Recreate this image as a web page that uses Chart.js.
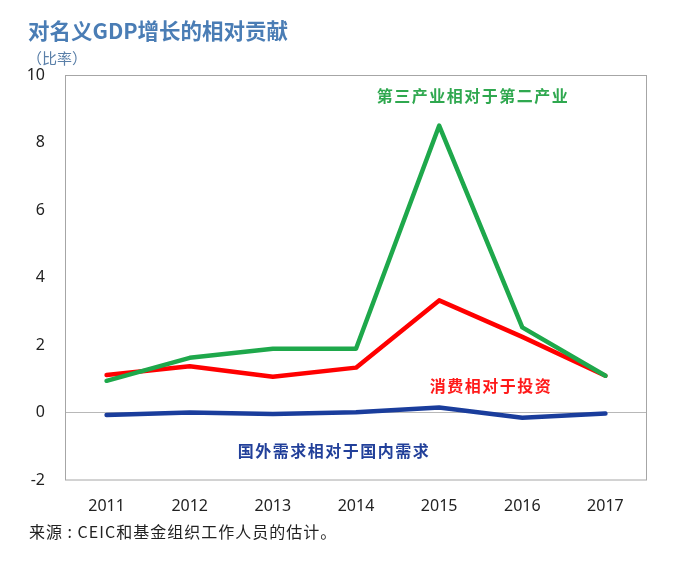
<!DOCTYPE html>
<html>
<head>
<meta charset="utf-8">
<script src="https://cdn.jsdelivr.net/npm/chart.js@4"></script>
<style>
  html, body { margin: 0; padding: 0; background: #fff; }
  #wrap { width: 687px; height: 573px; }
</style>
</head>
<body>
<div id="wrap"><canvas id="chart" width="687" height="573"></canvas></div>
<script>
const years = ["2011", "2012", "2013", "2014", "2015", "2016", "2017"];
const tertiaryVsSecondary = [0.95, 1.63, 1.9, 1.9, 8.5, 2.53, 1.1];
const consumptionVsInvestment = [1.12, 1.38, 1.07, 1.34, 3.33, 2.25, 1.1];
const externalVsDomestic = [-0.06, 0.01, -0.03, 0.02, 0.16, -0.14, -0.02];
const yTicks = [-2, 0, 2, 4, 6, 8, 10];

const FONT = "'Noto Sans', 'Noto Sans CJK SC', sans-serif";
const CJK = "'Noto Sans CJK SC', sans-serif";

// 标题、注释和来源
const textPlugin = {
  id: "texts",
  beforeDatasetsDraw(chart) {
    const { ctx, chartArea: a } = chart;
    ctx.save();
    ctx.strokeStyle = "#a6a6a6";
    ctx.lineWidth = 1;
    ctx.strokeRect(a.left + 0.5, a.top + 0.5, a.right - a.left - 1, a.bottom - a.top - 1);
    ctx.restore();
  },
  afterDraw(chart) {
    const ctx = chart.ctx;
    ctx.save();
    ctx.textBaseline = "middle";
    ctx.textAlign = "left";
    ctx.fillStyle = "#4a7db5";
    ctx.font = "bold 21.5px " + CJK;
    ctx.fillText("对名义GDP增长的相对贡献", 28, 31);
    ctx.font = "15px " + CJK;
    ctx.fillStyle = "#5a7fa8";
    ctx.fillText("（比率）", 27, 58);

    ctx.textAlign = "center";
    ctx.font = "bold 16px " + CJK;
    ctx.letterSpacing = "1.5px";
    ctx.fillStyle = "#2fa84f";
    ctx.fillText("第三产业相对于第二产业", 473, 96);
    ctx.fillStyle = "#ff1a1a";
    ctx.fillText("消费相对于投资", 491, 386);
    ctx.fillStyle = "#22409a";
    ctx.fillText("国外需求相对于国内需求", 334, 451);

    ctx.letterSpacing = "1px";
    ctx.textAlign = "left";
    ctx.font = "16px " + CJK;
    ctx.fillStyle = "#222";
    ctx.fillText("来源 : CEIC和基金组织工作人员的估计。", 29, 532);
    ctx.restore();
  }
};

new Chart(document.getElementById("chart"), {
  type: "line",
  data: {
    labels: years,
    datasets: [
      { label: "第三产业相对于第二产业", data: tertiaryVsSecondary, borderColor: "#1ea84b", borderWidth: 4.5 },
      { label: "消费相对于投资", data: consumptionVsInvestment, borderColor: "#ff0000", borderWidth: 4.5 },
      { label: "国外需求相对于国内需求", data: externalVsDomestic, borderColor: "#1a3d9c", borderWidth: 4.5 }
    ]
  },
  options: {
    responsive: false,
    animation: false,
    layout: { padding: { top: 75, right: 40, bottom: 50, left: 0 } },
    elements: { point: { radius: 0 }, line: { tension: 0, borderCapStyle: "round", borderJoinStyle: "round" } },
    plugins: { legend: { display: false }, tooltip: { enabled: false } },
    scales: {
      x: {
        offset: true,
        afterFit(s) { s.height = 42.5; },
        grid: { display: false, drawTicks: false },
        border: { display: false },
        ticks: { padding: 16, color: "#222", font: { family: FONT, size: 16 } }
      },
      y: {
        min: -2,
        max: 10,
        afterFit(s) { s.width = 65; },
        afterBuildTicks(s) { s.ticks = yTicks.map(v => ({ value: v })); },
        grid: {
          drawTicks: false,
          color: c => (c.tick && c.tick.value === 0 ? "#b8b8b8" : "rgba(0,0,0,0)"),
          lineWidth: 1
        },
        border: { display: false },
        ticks: { padding: 20, color: "#222", font: { family: FONT, size: 16 } }
      }
    }
  },
  plugins: [textPlugin]
});
</script>
</body>
</html>
